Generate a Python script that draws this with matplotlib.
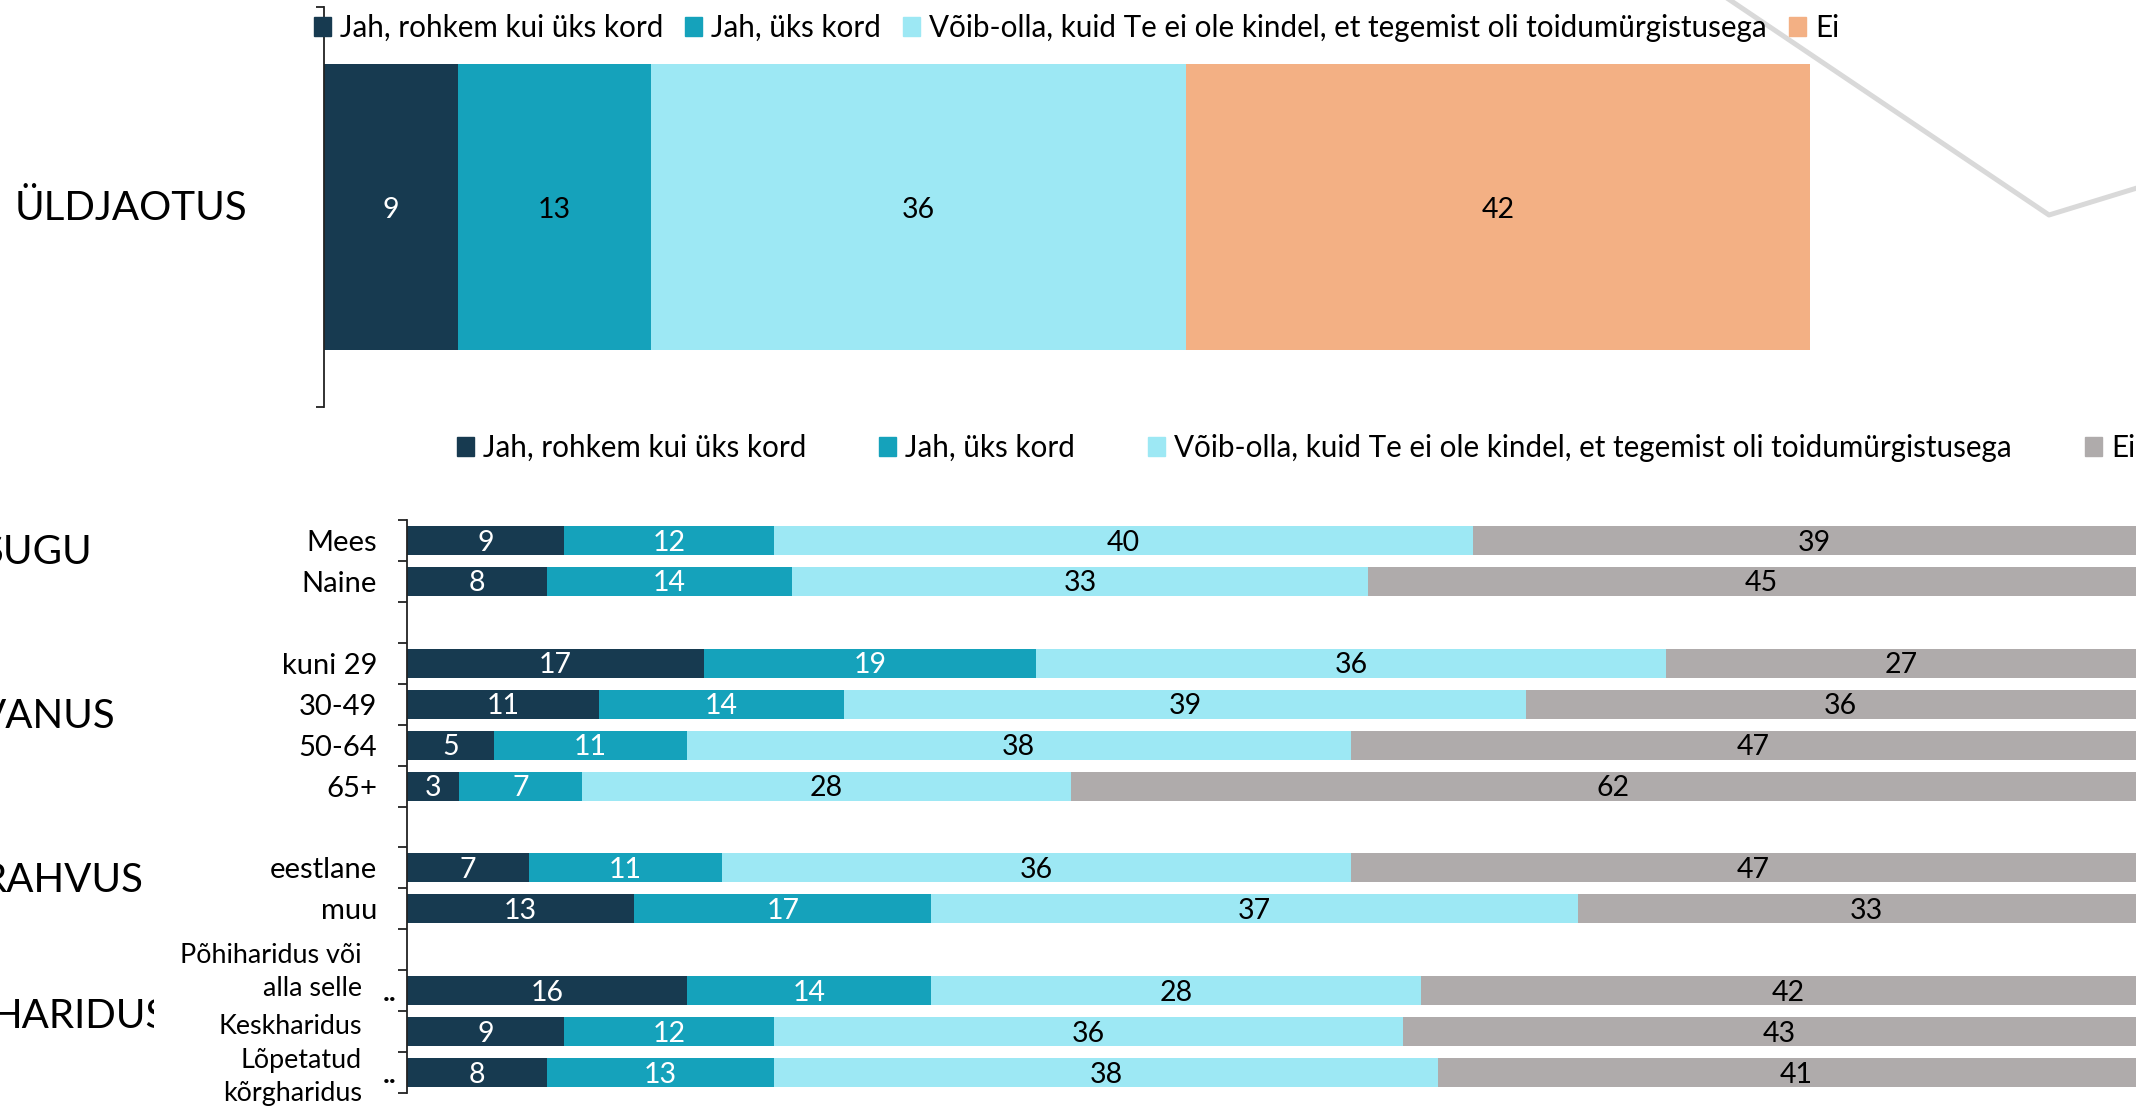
import numpy as np
import matplotlib.pyplot as plt
from matplotlib.patches import Patch
from matplotlib.lines import Line2D
from matplotlib.transforms import offset_copy, Bbox, TransformedBbox

plt.rcParams['font.family'] = ['Lato', 'DejaVu Sans']

answers = ['Jah, rohkem kui üks kord', 'Jah, üks kord',
           'Võib-olla, kuid Te ei ole kindel, et tegemist oli toidumürgistusega', 'Ei']

# overall answer split, %
overall = [9, 13, 36, 42]

# breakdown by background; empty rows separate the groups
rows = ['Mees', 'Naine', '',
        'kuni 29', '30-49', '50-64', '65+', '',
        'eestlane', 'muu', '',
        'Põhiharidus või\nalla selle', 'Keskharidus', 'Lõpetatud\nkõrgharidus']
more_than_once = [9, 8, None, 17, 11, 5, 3, None, 7, 13, None, 16, 9, 8]
once = [12, 14, None, 19, 14, 11, 7, None, 11, 17, None, 14, 12, 13]
maybe = [40, 33, None, 36, 39, 38, 28, None, 36, 37, None, 28, 36, 38]
no = [39, 45, None, 27, 36, 47, 62, None, 47, 33, None, 42, 43, 41]

groups = ['SUGU', 'VANUS', 'RAHVUS', 'HARIDUS']

top_colors = ['#173a50', '#15a2bb', '#9de8f4', '#f3b084']
bottom_colors = ['#173a50', '#15a2bb', '#9de8f4', '#afabab']

W, H = 2136, 1107
fig = plt.figure(figsize=(W / 100, H / 100), dpi=100)


def box(left, top, right, bottom):
    return [left / W, 1 - bottom / H, (right - left) / W, (bottom - top) / H]


def fpos(x, y):
    return x / W, 1 - y / H


# grey decoration line in the corner
fig.add_artist(Line2D([1718 / W, 2049 / W, 2150 / W], [1 + 8 / H, 1 - 215 / H, 1 - 184 / H],
                      transform=fig.transFigure, color='#d9d9d9', lw=3.6, zorder=0.5))

fs_val = 20.5
fs_leg = 21.3
px_leg = fs_leg * 100 / 72

# ---- top chart: overall ----
ax1 = fig.add_axes(box(324, 7, 1810, 407))
left = 0
for v, c, tc in zip(overall, top_colors, ['white', 'black', 'black', 'black']):
    bars = ax1.barh(0, v, left=left, height=0.715, color=c)
    for t in ax1.bar_label(bars, labels=[str(v)], label_type='center', color=tc, fontsize=fs_val):
        t.xyann = (0, -2.5)
    left += v
ax1.set_xlim(0, 100)
ax1.set_ylim(0.5, -0.5)
ax1.set_xticks([])
ax1.set_yticks([])
ax1.set_yticks([-0.5, 0.5], minor=True)
ax1.tick_params(axis='y', which='minor', length=6, width=1.3, color='#222222')
for s in ['top', 'right', 'bottom']:
    ax1.spines[s].set_visible(False)
ax1.spines['left'].set_linewidth(1.3)
ax1.spines['left'].set_color('#222222')

fig.text(*fpos(15, 208), 'ÜLDJAOTUS', fontsize=29, ha='left', va='center')

fig.legend([Patch(color=c) for c in top_colors], answers, loc='center left',
           bbox_to_anchor=fpos(314, 28), ncol=4, frameon=False, fontsize=fs_leg,
           handlelength=17 / px_leg, handleheight=17 / px_leg, handletextpad=9 / px_leg,
           columnspacing=22 / px_leg, borderpad=0, borderaxespad=0)

# ---- bottom chart: by groups ----
ax2 = fig.add_axes(box(407, 520, 407 + 1748, 1093))
y = np.arange(len(rows))
filled = np.array([v is not None for v in more_than_once])
series = [np.array(s, dtype=float)[filled] for s in (more_than_once, once, maybe, no)]
lefts = np.zeros(filled.sum())
for vals, c, tc in zip(series, bottom_colors, ['white', 'white', 'black', 'black']):
    bars = ax2.barh(y[filled], vals, left=lefts, height=0.71, color=c)
    for t in ax2.bar_label(bars, labels=[f'{v:g}' for v in vals], label_type='center',
                           color=tc, fontsize=fs_val):
        t.xyann = (0, -1.5)
    lefts = lefts + vals
ax2.set_xlim(0, 100)
ax2.set_ylim(len(rows) - 0.5, -0.5)
ax2.set_xticks([])

edu = rows.index('Põhiharidus või\nalla selle')
ax2.set_yticks(y[:edu], rows[:edu])
ax2.set_yticks(np.arange(len(rows) + 1) - 0.5, minor=True)
ax2.tick_params(axis='y', which='major', length=0, pad=21.5, labelsize=21)
ax2.tick_params(axis='y', which='minor', length=6.5, width=1.3, color='#222222')
for s in ['top', 'right', 'bottom']:
    ax2.spines[s].set_visible(False)
ax2.spines['left'].set_linewidth(1.3)
ax2.spines['left'].set_color('#222222')

# education labels are wrapped and cut short, with ".." next to the axis
yax = ax2.get_yaxis_transform()
for i, dy, cut in zip(range(edu, len(rows)), [-19, -5, 4], [True, False, True]):
    ax2.text(0, y[i], rows[i], transform=offset_copy(yax, fig=fig, x=-45, y=-dy, units='dots'),
             ha='right', va='center', fontsize=19.4, linespacing=1.4)
    if cut:
        ax2.text(0, y[i], '..', transform=offset_copy(yax, fig=fig, x=-10, y=-10, units='dots'),
                 ha='right', va='baseline', fontsize=21, fontweight='bold')

clip = TransformedBbox(Bbox([[0, 0], [154 / W, 1]]), fig.transFigure)
for name, (gx, gy) in zip(groups, [(92, 553), (116, 717), (143, 881), (168, 1017)]):
    t = fig.text(*fpos(gx, gy), name, fontsize=29, ha='right', va='center')
    t.set_clip_box(clip)
    t.set_clip_on(True)

fig.legend([Patch(color=c) for c in bottom_colors], answers, loc='center left',
           bbox_to_anchor=fpos(457, 448), ncol=4, frameon=False, fontsize=fs_leg,
           handlelength=17 / px_leg, handleheight=17 / px_leg, handletextpad=9 / px_leg,
           columnspacing=73 / px_leg, borderpad=0, borderaxespad=0)

fig.savefig('out.png', dpi=100, facecolor='white')
